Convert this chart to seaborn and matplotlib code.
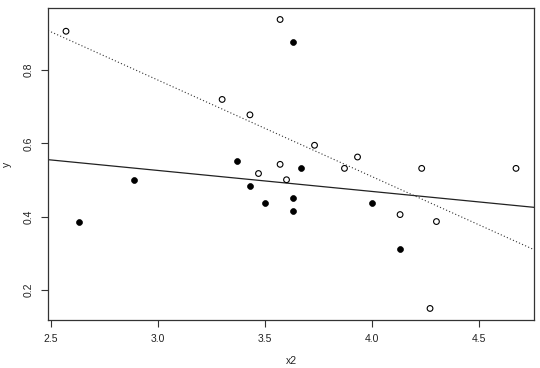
import matplotlib
matplotlib.use("Agg")
import matplotlib.pyplot as plt
import seaborn as sns
import pandas as pd

# open-circle points
open_x = [2.571, 3.301, 3.431, 3.471, 3.572, 3.733, 3.572, 3.602, 3.873, 3.934,
          4.234, 4.675, 4.133, 4.303, 4.273]
open_y = [0.906, 0.720, 0.678, 0.518, 0.938, 0.595, 0.543, 0.501, 0.532, 0.563,
          0.532, 0.532, 0.406, 0.387, 0.150]
# filled points
fill_x = [3.632, 3.371, 2.890, 3.672, 3.432, 3.502, 2.632, 3.632, 3.632, 4.004, 4.133]
fill_y = [0.876, 0.552, 0.500, 0.532, 0.484, 0.437, 0.387, 0.452, 0.417, 0.437, 0.313]

# fitted lines (intercept, slope)
solid_line = (0.698, -0.0572)
dotted_line = (1.562, -0.263)

x_ticks = [2.5, 3.0, 3.5, 4.0, 4.5]
y_ticks = [0.2, 0.4, 0.6, 0.8]

sns.set_style("white")
plt.rcParams['font.family'] = ['Liberation Sans', 'DejaVu Sans']

fig = plt.figure(figsize=(5.4, 3.68), dpi=100)
ax = fig.add_axes([0.0889, 0.1304, 0.9, 0.848])

df_open = pd.DataFrame({"x2": open_x, "y": open_y})
df_fill = pd.DataFrame({"x2": fill_x, "y": fill_y})

sns.scatterplot(data=df_open, x="x2", y="y", ax=ax, marker="o", s=17,
                facecolors="none", edgecolor="black", linewidth=0.8, zorder=3)
sns.scatterplot(data=df_fill, x="x2", y="y", ax=ax, marker="o", s=18,
                color="black", edgecolor="black", linewidth=0.5, zorder=3)

ax.axline((0, solid_line[0]), slope=solid_line[1], color="#222222", lw=0.9)
ax.axline((0, dotted_line[0]), slope=dotted_line[1], color="#333333", lw=0.8,
          linestyle=(0, (1, 2)))

all_x = open_x + fill_x
all_y = open_y + fill_y
rx = max(all_x) - min(all_x)
ry = max(all_y) - min(all_y)
ax.set_xlim(min(all_x) - 0.04 * rx, max(all_x) + 0.04 * rx)
ax.set_ylim(min(all_y) - 0.04 * ry, max(all_y) + 0.04 * ry)

ax.set_xticks(x_ticks)
ax.set_xticklabels([f"{v:.1f}" for v in x_ticks])
ax.set_yticks(y_ticks)
ax.set_yticklabels([f"{v:.1f}" for v in y_ticks], rotation=90, va="center")

ax.tick_params(axis="both", direction="out", length=5, width=0.8, color="#333333",
               labelsize=7.5, labelcolor="#222222", bottom=True, left=True, pad=5)
for sp in ax.spines.values():
    sp.set_visible(True)
    sp.set_color("#333333")
    sp.set_linewidth(0.9)

ax.set_xlabel("x2", fontsize=7.5, color="#222222", labelpad=9)
ax.set_ylabel("y", fontsize=7.5, color="#222222", labelpad=9)

fig.savefig("out.png", dpi=100)
